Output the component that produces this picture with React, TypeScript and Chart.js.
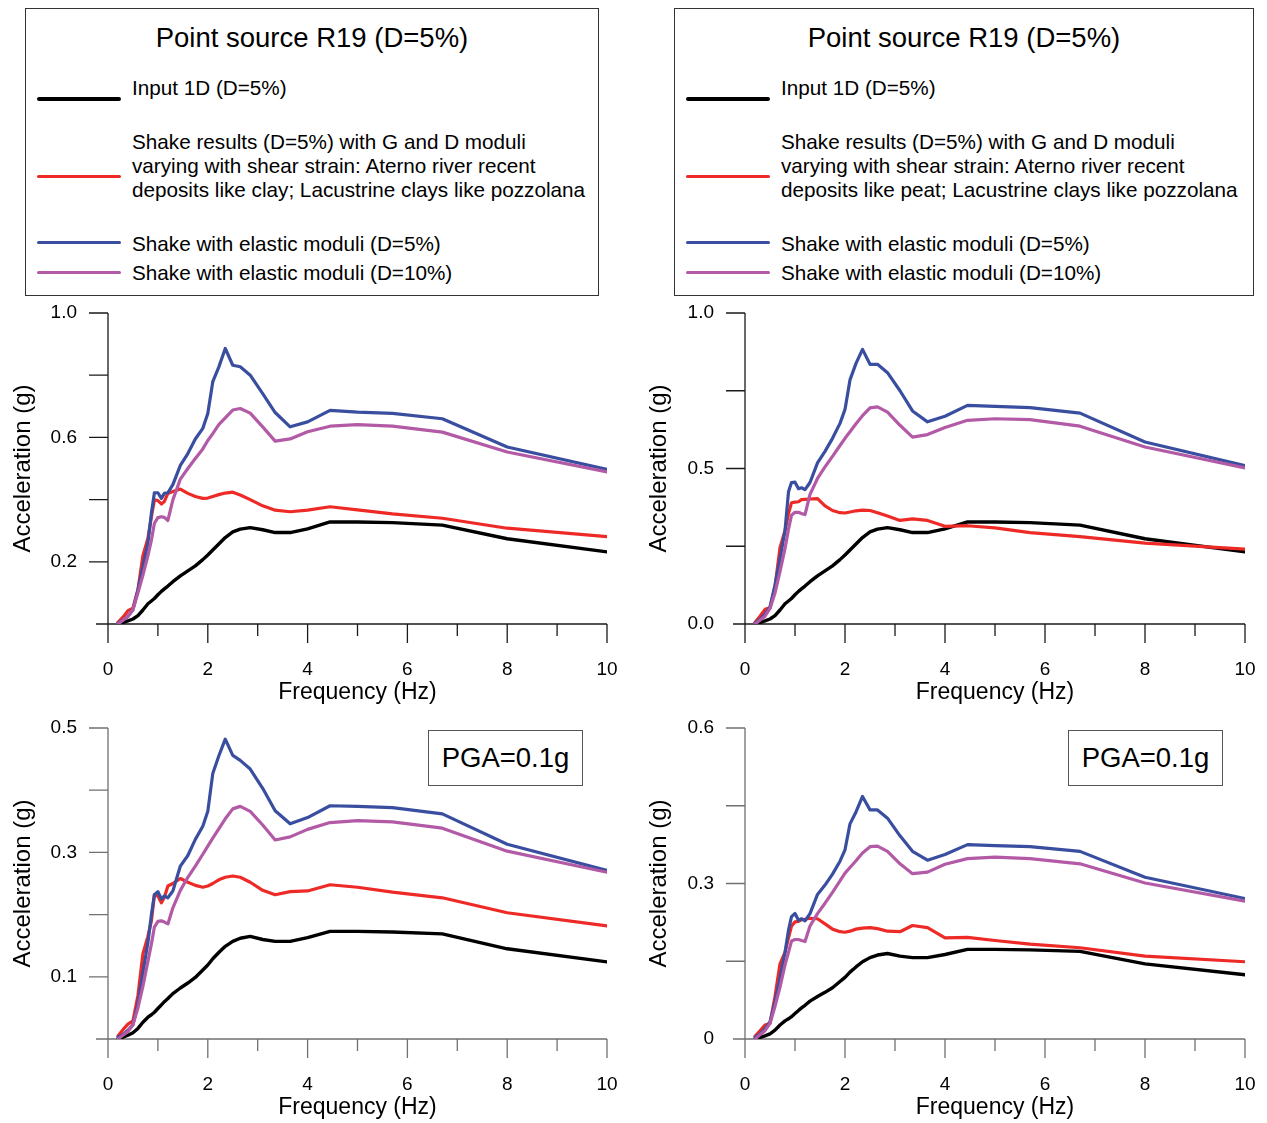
import React, { useEffect, useRef } from 'react';
import { Chart, registerables } from 'chart.js';

Chart.register(...registerables);

const FONT = '"Liberation Sans", Arial, Helvetica, sans-serif';

// ---------------- data ----------------
const frequencies = [0.2, 0.3, 0.4, 0.5, 0.6, 0.7, 0.8, 0.87, 0.93, 1.0, 1.07, 1.13, 1.2, 1.3, 1.45, 1.6, 1.75, 1.9, 2.0, 2.1, 2.22, 2.35, 2.5, 2.65, 2.85, 3.1, 3.35, 3.65, 4.0, 4.45, 5.0, 5.7, 6.7, 8.0, 10.0];

// top row (point source R19)
const inputTop = [0, 0.005, 0.01, 0.016, 0.027, 0.045, 0.065, 0.074, 0.082, 0.094, 0.105, 0.113, 0.122, 0.136, 0.155, 0.171, 0.187, 0.207, 0.222, 0.238, 0.257, 0.278, 0.296, 0.305, 0.31, 0.303, 0.294, 0.294, 0.306, 0.328, 0.328, 0.326, 0.318, 0.274, 0.232];
const shakeClayTop = [0.005, 0.022, 0.043, 0.051, 0.11, 0.22, 0.276, 0.345, 0.399, 0.397, 0.386, 0.394, 0.42, 0.426, 0.434, 0.42, 0.41, 0.404, 0.405, 0.41, 0.416, 0.421, 0.424, 0.415, 0.4, 0.38, 0.366, 0.361, 0.366, 0.377, 0.367, 0.354, 0.34, 0.308, 0.281];
const elastic5ClayTop = [0.003, 0.012, 0.025, 0.046, 0.11, 0.185, 0.26, 0.356, 0.422, 0.422, 0.404, 0.42, 0.422, 0.448, 0.51, 0.548, 0.595, 0.629, 0.677, 0.779, 0.826, 0.886, 0.832, 0.827, 0.8, 0.741, 0.68, 0.634, 0.65, 0.687, 0.681, 0.677, 0.66, 0.569, 0.497];
const elastic10ClayTop = [0, 0.012, 0.025, 0.046, 0.1, 0.157, 0.22, 0.27, 0.324, 0.342, 0.345, 0.343, 0.333, 0.399, 0.466, 0.5, 0.532, 0.563, 0.59, 0.612, 0.641, 0.663, 0.688, 0.693, 0.678, 0.634, 0.588, 0.595, 0.618, 0.636, 0.641, 0.636, 0.617, 0.553, 0.489];

const shakePeatTop = [0.005, 0.025, 0.047, 0.052, 0.12, 0.245, 0.3, 0.355, 0.39, 0.392, 0.393, 0.4, 0.401, 0.402, 0.403, 0.38, 0.365, 0.358, 0.357, 0.36, 0.364, 0.366, 0.365, 0.358, 0.347, 0.333, 0.338, 0.333, 0.314, 0.316, 0.309, 0.294, 0.281, 0.26, 0.241];
const elastic5PeatTop = [0.003, 0.015, 0.032, 0.055, 0.125, 0.21, 0.3, 0.425, 0.455, 0.456, 0.435, 0.438, 0.432, 0.455, 0.518, 0.555, 0.597, 0.645, 0.69, 0.785, 0.838, 0.883, 0.835, 0.835, 0.808, 0.75, 0.685, 0.65, 0.668, 0.703, 0.7, 0.696, 0.678, 0.585, 0.509];
const elastic10PeatTop = [0, 0.012, 0.025, 0.05, 0.1, 0.168, 0.243, 0.305, 0.35, 0.359, 0.359, 0.355, 0.352, 0.417, 0.468, 0.505, 0.539, 0.574, 0.597, 0.618, 0.644, 0.67, 0.695, 0.698, 0.681, 0.639, 0.601, 0.609, 0.632, 0.655, 0.66, 0.657, 0.636, 0.569, 0.502];

// bottom row (PGA = 0.1g)
const inputBottom = [0, 0.003, 0.006, 0.01, 0.017, 0.027, 0.035, 0.039, 0.043, 0.049, 0.055, 0.06, 0.065, 0.073, 0.082, 0.09, 0.099, 0.111, 0.119, 0.129, 0.139, 0.149, 0.157, 0.162, 0.165, 0.16, 0.157, 0.157, 0.163, 0.173, 0.173, 0.172, 0.169, 0.145, 0.124];
const shakeClayBottom = [0.005, 0.015, 0.024, 0.029, 0.07, 0.137, 0.165, 0.19, 0.232, 0.23, 0.219, 0.228, 0.246, 0.25, 0.258, 0.252, 0.247, 0.244, 0.246, 0.25, 0.256, 0.26, 0.262, 0.26, 0.252, 0.239, 0.232, 0.237, 0.238, 0.248, 0.244, 0.236, 0.227, 0.203, 0.182];
const elastic5ClayBottom = [0.003, 0.007, 0.014, 0.023, 0.057, 0.107, 0.155, 0.2, 0.232, 0.237, 0.225, 0.23, 0.227, 0.238, 0.278, 0.295, 0.321, 0.342, 0.366, 0.427, 0.455, 0.482, 0.456, 0.448, 0.434, 0.403, 0.367, 0.346, 0.356, 0.375, 0.374, 0.372, 0.362, 0.313, 0.271];
const elastic10ClayBottom = [0, 0.006, 0.012, 0.023, 0.05, 0.085, 0.125, 0.153, 0.18, 0.189, 0.19, 0.188, 0.185, 0.211, 0.239, 0.26, 0.278, 0.297, 0.31, 0.323, 0.338, 0.354, 0.37, 0.374, 0.366, 0.344, 0.32, 0.325, 0.337, 0.348, 0.351, 0.349, 0.339, 0.302, 0.268];

const shakePeatBottom = [0.005, 0.016, 0.027, 0.03, 0.082, 0.145, 0.167, 0.195, 0.218, 0.226, 0.227, 0.23, 0.231, 0.233, 0.232, 0.222, 0.212, 0.207, 0.206, 0.208, 0.212, 0.214, 0.215, 0.213, 0.208, 0.207, 0.219, 0.215, 0.195, 0.196, 0.19, 0.183, 0.176, 0.16, 0.149];
const elastic5PeatBottom = [0.003, 0.01, 0.02, 0.033, 0.072, 0.118, 0.167, 0.21, 0.236, 0.242, 0.229, 0.232, 0.228, 0.242, 0.279, 0.297, 0.318, 0.343, 0.365, 0.415, 0.438, 0.468, 0.442, 0.442, 0.426, 0.392, 0.362, 0.345, 0.356, 0.375, 0.373, 0.371, 0.362, 0.312, 0.271];
const elastic10PeatBottom = [0, 0.008, 0.016, 0.03, 0.063, 0.1, 0.143, 0.167, 0.189, 0.192, 0.192, 0.19, 0.188, 0.218, 0.242, 0.262, 0.283, 0.305, 0.32, 0.331, 0.344, 0.359, 0.371, 0.372, 0.362, 0.338, 0.319, 0.322, 0.337, 0.348, 0.351, 0.348, 0.338, 0.301, 0.266];

// ticks
const xTicks = [0, 1, 2, 3, 4, 5, 6, 7, 8, 9, 10];
const xTickLabels = ['0', '', '2', '', '4', '', '6', '', '8', '', '10'];
const yTicksTopLeft = [0, 0.2, 0.4, 0.6, 0.8, 1.0];
const yLabelsTopLeft = ['', '0.2', '', '0.6', '', '1.0'];
const yTicksTopRight = [0, 0.25, 0.5, 0.75, 1.0];
const yLabelsTopRight = ['0.0', '', '0.5', '', '1.0'];
const yTicksBottomLeft = [0, 0.1, 0.2, 0.3, 0.4, 0.5];
const yLabelsBottomLeft = ['', '0.1', '', '0.3', '', '0.5'];
const yTicksBottomRight = [0, 0.15, 0.3, 0.45, 0.6];
const yLabelsBottomRight = ['0', '', '0.3', '', '0.6'];

const seriesNames = [
  'Input 1D (D=5%)',
  'Shake results (D=5%)',
  'Shake with elastic moduli (D=5%)',
  'Shake with elastic moduli (D=10%)',
];
const seriesColors = ['#000000', '#EE2A26', '#3A4EA0', '#B35AA6'];

// ---------------- chart panel ----------------
type PanelProps = {
  left: number;
  top: number;
  width: number;
  height: number;
  yAxisWidth: number;
  rightPad: number;
  yTicks: number[];
  yLabels: string[];
  series: number[][];
  axisColor: string;
};

const axesPlugin = {
  id: 'customAxes',
  beforeDatasetsDraw(chart: any, _args: any, opts: any) {
    const { ctx, chartArea } = chart;
    const xs = chart.scales.x;
    const ys = chart.scales.y;
    ctx.save();
    ctx.strokeStyle = opts.color || '#000';
    ctx.lineWidth = 1.3;
    ctx.beginPath();
    // y axis (extends below the x axis)
    ctx.moveTo(chartArea.left, chartArea.top);
    ctx.lineTo(chartArea.left, chartArea.bottom + 19);
    // x axis (starts left of the y axis)
    ctx.moveTo(chartArea.left - 12, chartArea.bottom);
    ctx.lineTo(chartArea.right, chartArea.bottom);
    // x ticks: long at even, short at odd values
    xTicks.forEach((v, i) => {
      const px = xs.getPixelForValue(v);
      ctx.moveTo(px, chartArea.bottom);
      ctx.lineTo(px, chartArea.bottom + (i % 2 === 0 ? 19 : 12));
    });
    // y ticks
    (opts.yTicks || []).forEach((v: number) => {
      if (v === 0) return;
      const py = ys.getPixelForValue(v);
      ctx.moveTo(chartArea.left - 19, py);
      ctx.lineTo(chartArea.left, py);
    });
    ctx.stroke();
    ctx.restore();
  },
};

function Panel(p: PanelProps) {
  const ref = useRef<HTMLCanvasElement | null>(null);
  useEffect(() => {
    if (!ref.current) return;
    const datasets = p.series.map((vals, si) => ({
      label: seriesNames[si],
      data: frequencies.map((f, i) => ({ x: f, y: vals[i] })),
      borderColor: seriesColors[si],
      backgroundColor: seriesColors[si],
      borderWidth: si === 0 ? 3.4 : 3.2,
      pointRadius: 0,
      tension: 0,
      fill: false,
      borderJoinStyle: 'round' as const,
      borderCapStyle: 'round' as const,
      order: 4 - si,
    }));
    const yMax = p.yTicks[p.yTicks.length - 1];
    const chart = new Chart(ref.current, {
      type: 'line',
      data: { datasets },
      plugins: [axesPlugin],
      options: {
        animation: false,
        responsive: false,
        maintainAspectRatio: false,
        layout: { padding: { left: 0, top: 15, right: p.rightPad, bottom: 0 } },
        plugins: {
          legend: { display: false },
          tooltip: { enabled: false },
          // @ts-ignore
          customAxes: { color: p.axisColor, yTicks: p.yTicks },
        },
        scales: {
          x: {
            type: 'linear',
            min: 0,
            max: 10,
            afterBuildTicks: (scale: any) => {
              scale.ticks = xTicks.map((v) => ({ value: v }));
            },
            afterFit: (scale: any) => {
              scale.height = p.height - 326;
            },
            border: { display: false },
            grid: { display: true, drawOnChartArea: false, drawTicks: true, tickLength: 34, color: 'rgba(0,0,0,0)' },
            ticks: {
              padding: 0,
              color: '#000',
              font: { family: FONT, size: 19 },
              maxRotation: 0,
              autoSkip: false,
              callback: (_v: any, i: number) => xTickLabels[i],
            },
            title: {
              display: true,
              text: 'Frequency (Hz)',
              color: '#000',
              font: { family: FONT, size: 23 },
              padding: { top: 0, bottom: 2 },
            },
          },
          y: {
            type: 'linear',
            min: 0,
            max: yMax,
            afterBuildTicks: (scale: any) => {
              scale.ticks = p.yTicks.map((v) => ({ value: v }));
            },
            afterFit: (scale: any) => {
              scale.width = p.yAxisWidth;
            },
            border: { display: false },
            grid: { display: true, drawOnChartArea: false, drawTicks: true, tickLength: 31, color: 'rgba(0,0,0,0)' },
            ticks: {
              padding: 0,
              color: '#000',
              font: { family: FONT, size: 19 },
              autoSkip: false,
              callback: (_v: any, i: number) => p.yLabels[i],
            },
            title: {
              display: true,
              text: 'Acceleration (g)',
              color: '#000',
              font: { family: FONT, size: 24 },
              padding: { top: 9, bottom: 0 },
            },
          },
        },
      },
    });
    return () => chart.destroy();
  }, []);
  return (
    <canvas
      ref={ref}
      width={p.width}
      height={p.height}
      style={{ position: 'absolute', left: p.left, top: p.top, width: p.width, height: p.height }}
    />
  );
}

// ---------------- legend ----------------
function LegendBox({ left, width, soil }: { left: number; width: number; soil: string }) {
  const sample = (top: number, color: string, h = 3.2) => (
    <div style={{ position: 'absolute', left: 11, top, width: 84, height: h, background: color, borderRadius: 2 }} />
  );
  const text = (top: number, lines: string[]) => (
    <div style={{ position: 'absolute', left: 106, top, fontSize: 20.7, lineHeight: '24px', whiteSpace: 'nowrap' }}>
      {lines.map((l, i) => (
        <div key={i}>{l}</div>
      ))}
    </div>
  );
  return (
    <div
      style={{
        position: 'absolute',
        left,
        top: 8,
        width,
        height: 288,
        border: '1.4px solid #333',
        boxSizing: 'border-box',
        fontFamily: FONT,
        color: '#000',
        background: '#fff',
      }}
    >
      <div style={{ position: 'absolute', left: 0, top: 14, width: '100%', textAlign: 'center', fontSize: 27.5, lineHeight: '30px' }}>
        Point source R19 (D=5%)
      </div>
      {sample(88, seriesColors[0], 3.6)}
      {text(67, [seriesNames[0]])}
      {sample(166, seriesColors[1])}
      {text(121, [
        'Shake results (D=5%) with G and D moduli',
        'varying with shear strain: Aterno river recent',
        `deposits like ${soil}; Lacustrine clays like pozzolana`,
      ])}
      {sample(232, seriesColors[2])}
      {text(223, [seriesNames[2]])}
      {sample(262, seriesColors[3])}
      {text(252, [seriesNames[3]])}
    </div>
  );
}

function PgaBox({ left }: { left: number }) {
  return (
    <div
      style={{
        position: 'absolute',
        left,
        top: 730,
        width: 155,
        height: 56,
        border: '1.4px solid #555',
        boxSizing: 'border-box',
        background: '#fff',
        display: 'flex',
        alignItems: 'center',
        justifyContent: 'center',
        fontFamily: FONT,
        fontSize: 27.5,
        color: '#000',
      }}
    >
      PGA=0.1g
    </div>
  );
}

export default function App() {
  return (
    <div style={{ position: 'absolute', left: 0, top: 0, width: 1267, height: 1123, background: '#fff', overflow: 'hidden' }}>
      <LegendBox left={25} width={574} soil="clay" />
      <LegendBox left={674} width={580} soil="peat" />
      <Panel
        left={0}
        top={298}
        width={630}
        height={410}
        yAxisWidth={108}
        rightPad={23}
        yTicks={yTicksTopLeft}
        yLabels={yLabelsTopLeft}
        series={[inputTop, shakeClayTop, elastic5ClayTop, elastic10ClayTop]}
        axisColor="#1a1a1a"
      />
      <Panel
        left={636}
        top={298}
        width={631}
        height={410}
        yAxisWidth={109}
        rightPad={22}
        yTicks={yTicksTopRight}
        yLabels={yLabelsTopRight}
        series={[inputTop, shakePeatTop, elastic5PeatTop, elastic10PeatTop]}
        axisColor="#1a1a1a"
      />
      <Panel
        left={0}
        top={713}
        width={630}
        height={410}
        yAxisWidth={108}
        rightPad={23}
        yTicks={yTicksBottomLeft}
        yLabels={yLabelsBottomLeft}
        series={[inputBottom, shakeClayBottom, elastic5ClayBottom, elastic10ClayBottom]}
        axisColor="#707070"
      />
      <Panel
        left={636}
        top={713}
        width={631}
        height={410}
        yAxisWidth={109}
        rightPad={22}
        yTicks={yTicksBottomRight}
        yLabels={yLabelsBottomRight}
        series={[inputBottom, shakePeatBottom, elastic5PeatBottom, elastic10PeatBottom]}
        axisColor="#707070"
      />
      <PgaBox left={428} />
      <PgaBox left={1068} />
    </div>
  );
}
